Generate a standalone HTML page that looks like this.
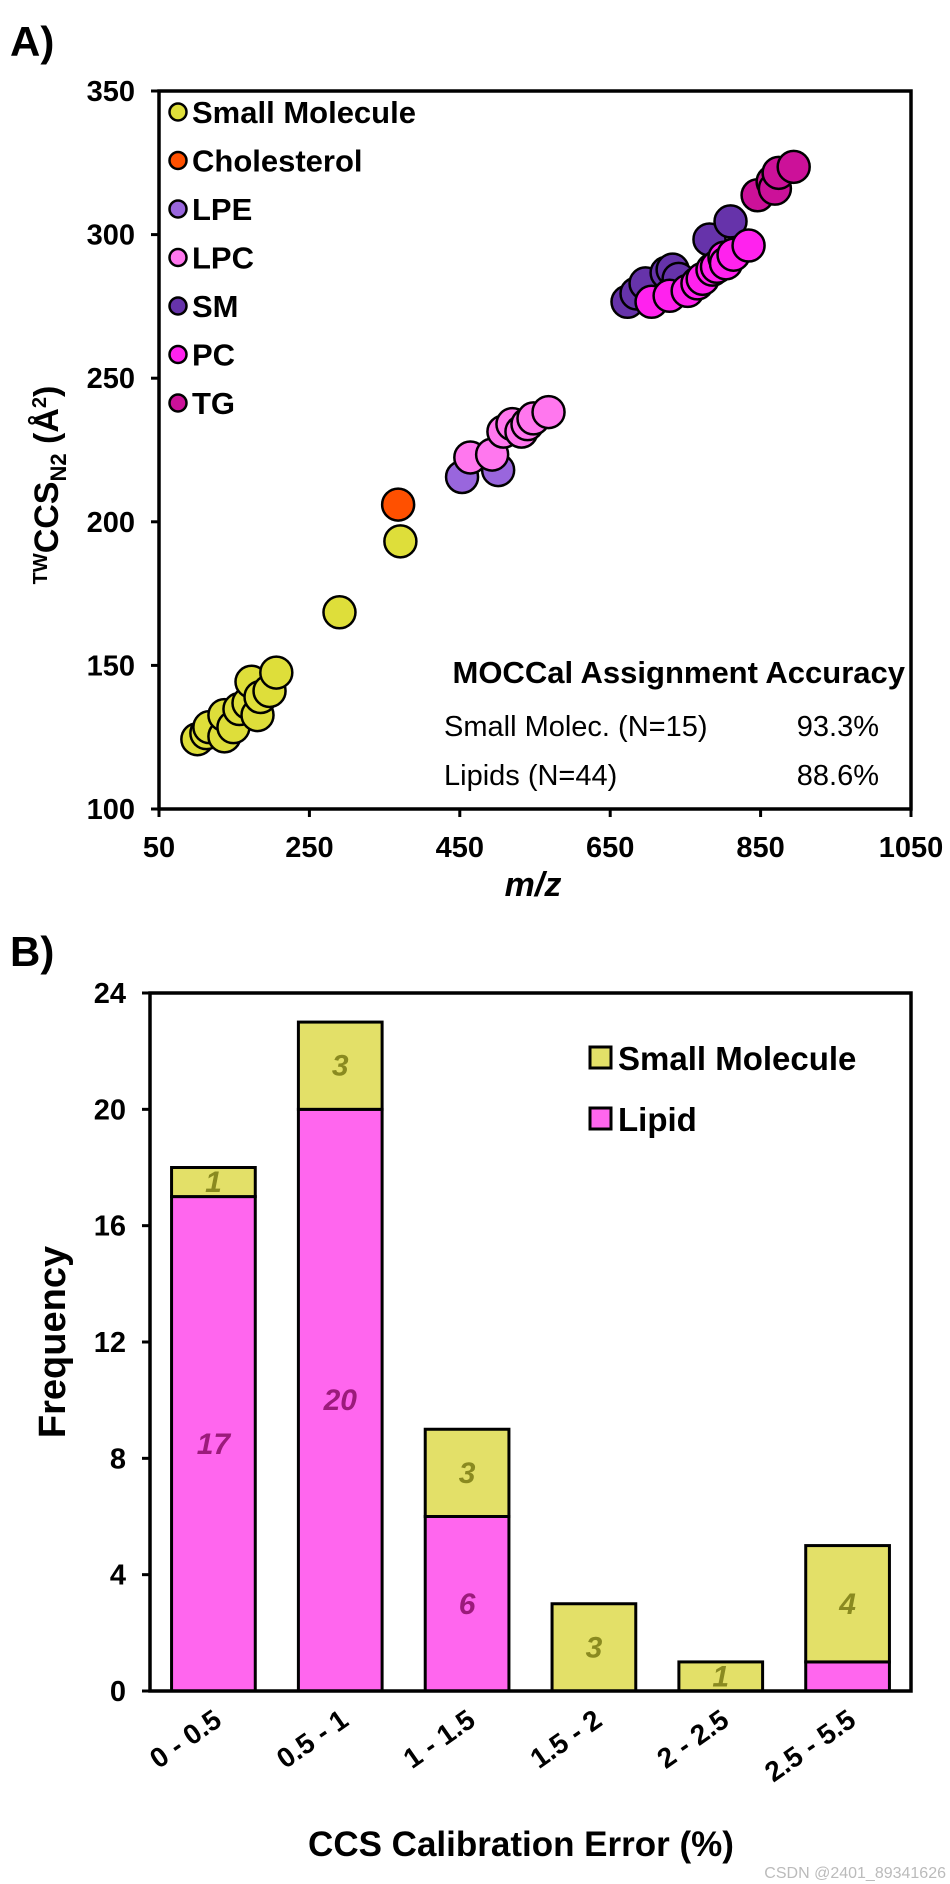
<!DOCTYPE html>
<html><head><meta charset="utf-8"><style>
body{margin:0;background:#fff}
svg{display:block;font-family:"Liberation Sans",Arial,sans-serif}
</style></head><body>
<svg id="fig" width="950" height="1884" viewBox="0 0 950 1884">
<text x="10" y="56" font-size="42" font-weight="bold">A)</text>
<g id="scatter"></g>
<text x="10" y="966" font-size="42" font-weight="bold">B)</text>
<g id="bars"></g>
<text x="946" y="1878" font-size="16" fill="#bbb" text-anchor="end">CSDN @2401_89341626</text>
</svg>
<script>
const NS="http://www.w3.org/2000/svg";
function mk(p,t,a,txt){const e=document.createElementNS(NS,t);for(const k in a)e.setAttribute(k,a[k]);if(txt!==undefined)e.textContent=txt;p.appendChild(e);return e;}

// ---------- Panel A data ----------
const seriesNames=["Small Molecule","Cholesterol","LPE","LPC","SM","PC","TG"];
const seriesColors=["#dede3a","#ff5000","#9966dd","#ff77ee","#6633aa","#ff22ee","#cc1199"];
const smallMz=[101,113,117,137,137,149,157,169,173,181,185,197,206,290,371];
const smallCcs=[124.3,126.4,128.5,125.3,132.7,128.5,134.8,136.9,144.3,132.7,139.0,141.1,147.5,168.5,193.2];
const cholMz=[368];
const cholCcs=[206];
const lpeMz=[453,501];
const lpeCcs=[215.6,218];
const lpcMz=[464,493,508,520,532,540,548,568];
const lpcCcs=[222.4,223.4,231.4,234,231.4,234,236,238.2];
const smMz=[673,685,697,725,733,741,782,810];
const smCcs=[276.6,279.5,283,286.7,287.8,284.6,298.3,304.6];
const pcMz=[705,729,753,766,773,786,792,802,804,814,834];
const pcCcs=[276.6,278.7,280.4,283,284.6,287.8,288.8,292,290,293,296.2];
const tgMz=[846,866,869,874,894];
const tgCcs=[313.7,318.4,316,321.5,323.6];
const xTicksA=[50,250,450,650,850,1050];
const yTicksA=[100,150,200,250,300,350];

const A={l:159,r:911,t:91,b:809,xmin:50,xmax:1050,ymin:100,ymax:350};
const xA=v=>A.l+(v-A.xmin)/(A.xmax-A.xmin)*(A.r-A.l);
const yA=v=>A.b-(v-A.ymin)/(A.ymax-A.ymin)*(A.b-A.t);
const gA=document.getElementById('scatter');

const allSeries=[[smallMz,smallCcs],[cholMz,cholCcs],[lpeMz,lpeCcs],[lpcMz,lpcCcs],[smMz,smCcs],[pcMz,pcCcs],[tgMz,tgCcs]];
allSeries.forEach((s,si)=>{
  s[0].forEach((m,i)=>{
    const c=mk(gA,'circle',{cx:xA(m),cy:yA(s[1][i]),r:16,fill:seriesColors[si],stroke:'#000','stroke-width':2.5});
    
    
  });
});
let fr=mk(gA,'rect',{x:A.l,y:A.t,width:A.r-A.l,height:A.b-A.t,fill:'none',stroke:'#000','stroke-width':3.5});


yTicksA.forEach(v=>{
  mk(gA,'line',{x1:A.l-8,x2:A.l,y1:yA(v),y2:yA(v),stroke:'#000','stroke-width':3});
  const t=mk(gA,'text',{x:A.l-24,y:yA(v)+10,'font-size':29,'font-weight':'bold','text-anchor':'end'},v);
  
  
});
xTicksA.forEach(v=>{
  mk(gA,'line',{x1:xA(v),x2:xA(v),y1:A.b,y2:A.b+8,stroke:'#000','stroke-width':3});
  const t=mk(gA,'text',{x:xA(v),y:857,'font-size':29,'font-weight':'bold','text-anchor':'middle'},v);
  
  
});
seriesNames.forEach((n,i)=>{
  const y=112+i*48.5;
  const c=mk(gA,'circle',{cx:178,cy:y,r:8.5,fill:seriesColors[i],stroke:'#000','stroke-width':2.5});
  
  
  const t=mk(gA,'text',{x:192,y:y+11,'font-size':31,'font-weight':'bold'},n);
  
  
});
let tt=mk(gA,'text',{x:905,y:683,'font-size':31,'font-weight':'bold','text-anchor':'end'},'MOCCal Assignment Accuracy');


[['Small Molec. (N=15)','93.3%',736],['Lipids (N=44)','88.6%',785]].forEach(r=>{
  const a=mk(gA,'text',{x:444,y:r[2],'font-size':29},r[0]);
  
  
  const b=mk(gA,'text',{x:879,y:r[2],'font-size':29,'text-anchor':'end'},r[1]);
  
  
});
let xt=mk(gA,'text',{x:533,y:896,'font-size':34,'font-weight':'bold','font-style':'italic','text-anchor':'middle'},'m/z');


let yt=mk(gA,'text',{transform:'translate(58,485) rotate(-90)','font-size':34,'font-weight':'bold','text-anchor':'middle'});


mk(yt,'tspan',{'font-size':20,dy:-11},'TW');
mk(yt,'tspan',{dy:11},'CCS');
mk(yt,'tspan',{'font-size':22,dy:8},'N2');
mk(yt,'tspan',{dy:-8},' (Å');
mk(yt,'tspan',{'font-size':20,dy:-12},'2');
mk(yt,'tspan',{dy:12},')');

// ---------- Panel B data ----------
const categories=["0 - 0.5","0.5 - 1","1 - 1.5","1.5 - 2","2 - 2.5","2.5 - 5.5"];
const lipidCounts=[17,20,6,0,0,1];
const smallCounts=[1,3,3,3,1,4];
const lipidLabels=["17","20","6","","",""];
const smallLabels=["1","3","3","3","1","4"];
const yTicksB=[0,4,8,12,16,20,24];

const B={l:150,r:911,t:993,b:1691,ymax:24};
const yB=v=>B.b-v/B.ymax*(B.b-B.t);
const cw=(B.r-B.l)/categories.length;
const xB=i=>B.l+cw*(i+0.5);
const bw=cw*0.66;
const gB=document.getElementById('bars');
categories.forEach((c,i)=>{
  const x0=xB(i)-bw/2;
  if(lipidCounts[i]>0){
    const r=mk(gB,'rect',{x:x0,y:yB(lipidCounts[i]),width:bw,height:yB(0)-yB(lipidCounts[i]),fill:'#ff66ee',stroke:'#000','stroke-width':3});
    
    
  }
  const top=lipidCounts[i]+smallCounts[i];
  const s=mk(gB,'rect',{x:x0,y:yB(top),width:bw,height:yB(lipidCounts[i])-yB(top),fill:'#e3e068',stroke:'#000','stroke-width':3});
  
  
  if(lipidLabels[i]){
    const t=mk(gB,'text',{x:xB(i),y:yB(lipidCounts[i]/2)+10,'font-size':30,'font-weight':'bold','font-style':'italic',fill:'#9b1b7b','text-anchor':'middle'},lipidLabels[i]);
    
    
  }
  const t2=mk(gB,'text',{x:xB(i),y:yB(lipidCounts[i]+smallCounts[i]/2)+10,'font-size':30,'font-weight':'bold','font-style':'italic',fill:'#8a8a20','text-anchor':'middle'},smallLabels[i]);
  
  
  const xl=mk(gB,'text',{transform:`translate(${xB(i)+10},${1724}) rotate(-35)`,'font-size':28,'font-weight':'bold','text-anchor':'end'},c);
  
  
});
let frb=mk(gB,'rect',{x:B.l,y:B.t,width:B.r-B.l,height:B.b-B.t,fill:'none',stroke:'#000','stroke-width':3.5});


yTicksB.forEach(v=>{
  mk(gB,'line',{x1:B.l-8,x2:B.l,y1:yB(v),y2:yB(v),stroke:'#000','stroke-width':3});
  const t=mk(gB,'text',{x:126,y:yB(v)+10,'font-size':29,'font-weight':'bold','text-anchor':'end'},v);
  
  
});
[['Small Molecule','#e3e068',1058],['Lipid','#ff66ee',1119]].forEach(l=>{
  const r=mk(gB,'rect',{x:590,y:l[2]-11,width:21,height:21,fill:l[1],stroke:'#000','stroke-width':3});
  
  
  const t=mk(gB,'text',{x:618,y:l[2]+12,'font-size':33,'font-weight':'bold'},l[0]);
  
  
});
let bx=mk(gB,'text',{x:521,y:1856,'font-size':35,'font-weight':'bold','text-anchor':'middle'},'CCS Calibration Error (%)');


let by=mk(gB,'text',{transform:'translate(65,1342) rotate(-90)','font-size':38,'font-weight':'bold','text-anchor':'middle'},'Frequency');


</script>
</body></html>
